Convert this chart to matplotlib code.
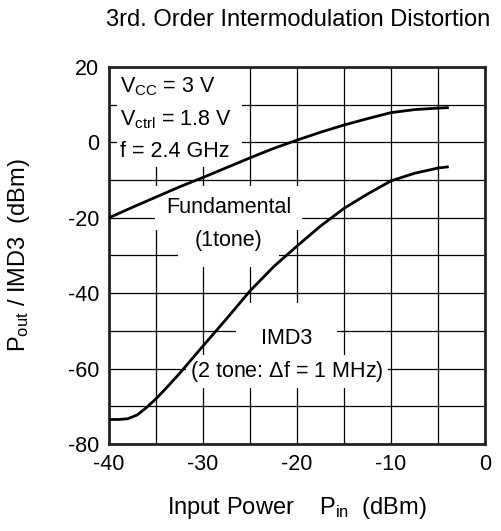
import numpy as np
import matplotlib.pyplot as plt
from matplotlib.ticker import MultipleLocator
from matplotlib.patches import Rectangle

plt.rcParams.update({'font.family': ['Liberation Sans', 'DejaVu Sans'],
                     'font.size': 15.5,
                     'axes.unicode_minus': False,
                     'mathtext.fontset': 'custom',
                     'mathtext.rm': 'Liberation Sans',
                     'mathtext.it': 'Liberation Sans',
                     })

# curves
pin_fund = [-40, -37.5, -35, -32.5, -30, -27.5, -25, -22.5, -20, -17.5, -15, -12.5, -10, -7.5, -5, -4]
p_fund = [-20, -17.2, -14.5, -11.8, -9.3, -6.7, -4.1, -1.6, 0.6, 2.7, 4.6, 6.3, 7.9, 8.7, 9.1, 9.2]

pin_imd = [-40, -39, -38, -37, -36, -35, -34, -32.5, -30, -27.5, -25, -22.5, -20, -17.5, -15, -12.5, -10, -7.5, -5, -4]
p_imd = [-73.5, -73.5, -73.3, -72.3, -70.3, -68.0, -65.4, -61.3, -54.0, -46.8, -39.4, -33.0, -27.5, -22.2, -17.5, -13.7, -10.2, -8.2, -6.8, -6.5]

fig = plt.figure(figsize=(5.01, 5.31), dpi=100)
ax = fig.add_axes([109/501, 1-444/531, 376/501, 377/531])

ax.plot(pin_fund, p_fund, color='k', lw=2, zorder=3)
ax.plot(pin_imd, p_imd, color='k', lw=2, zorder=3)

ax.set_xlim(-40, 0)
ax.set_ylim(-80, 20)
ax.xaxis.set_major_locator(MultipleLocator(10))
ax.xaxis.set_minor_locator(MultipleLocator(5))
ax.yaxis.set_major_locator(MultipleLocator(20))
ax.yaxis.set_minor_locator(MultipleLocator(10))
ax.grid(True, which='both', color='k', lw=0.9)
ax.tick_params(which='both', length=0, pad=7)
for s in ax.spines.values():
    s.set_linewidth(2)
    s.set_color('#222222')

# white panel behind the operating conditions
ax.add_patch(Rectangle((-39.2, -6.5), 13.4, 26.5, facecolor='white', edgecolor='none', zorder=2))
ax.text(-38.8, 14.7, '$\\mathregular{V_{CC}}$ = 3 V', va='center', ha='left', zorder=4)
ax.text(-38.8, 5.9, '$\\mathregular{V_{ctrl}}$ = 1.8 V', va='center', ha='left', zorder=4)
ax.text(-38.8, -2.5, 'f = 2.4 GHz', va='center', ha='left', zorder=4)

ax.text(-27.3, -17.4, 'Fundamental', ha='center', va='center', zorder=2,
        bbox=dict(facecolor='white', edgecolor='none', pad=8))
ax.text(-27.3, -25.9, '(1tone)', ha='center', va='center', zorder=2,
        bbox=dict(facecolor='white', edgecolor='none', pad=12))
ax.text(-21.1, -51.9, 'IMD3', ha='center', va='center', zorder=2,
        bbox=dict(facecolor='white', edgecolor='none', pad=18))
ax.text(-21.1, -60.8, '(2 tone: $\\Delta$f = 1 MHz)', ha='center', va='center', zorder=2,
        bbox=dict(facecolor='white', edgecolor='none', pad=3))

fig.text(490/501, 1-20/531, '3rd. Order Intermodulation Distortion', ha='right', va='center', fontsize=17)
fig.text(297/501, 1-508/531, 'Input Power    $\\mathregular{P_{in}}$  (dBm)', ha='center', va='center', fontsize=17)
fig.text(19/501, 1-255/531, '$\\mathregular{P_{out}}$ / IMD3  (dBm)', ha='center', va='center',
         rotation=90, fontsize=17)

fig.savefig('out.png', dpi=100)
